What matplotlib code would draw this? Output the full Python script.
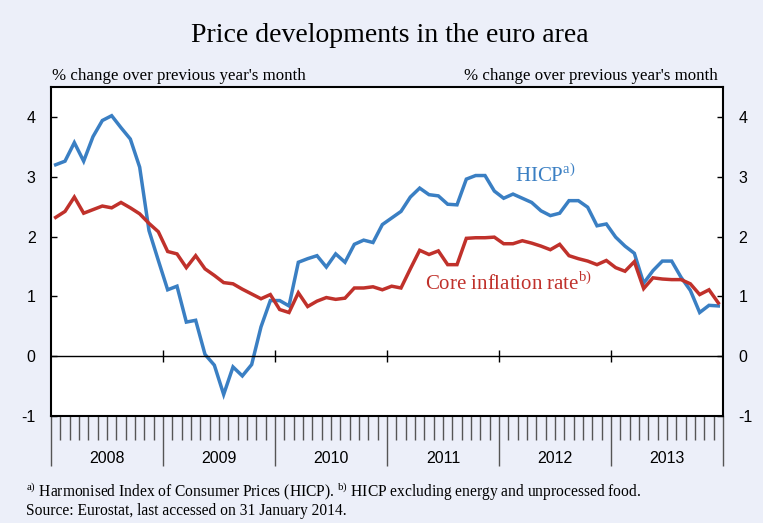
import numpy as np
import matplotlib
matplotlib.use('Agg')
import matplotlib.pyplot as plt

# monthly data, Jan 2008 - Dec 2013
years = ['2008', '2009', '2010', '2011', '2012', '2013']
hicp = [3.20, 3.26, 3.57, 3.26, 3.67, 3.94, 4.02, 3.82, 3.63, 3.16, 2.10, 1.60,
        1.11, 1.17, 0.57, 0.60, 0.03, -0.15, -0.64, -0.18, -0.33, -0.14, 0.49, 0.93,
        0.93, 0.84, 1.57, 1.63, 1.68, 1.49, 1.71, 1.57, 1.87, 1.94, 1.90, 2.20,
        2.31, 2.42, 2.66, 2.81, 2.70, 2.68, 2.54, 2.53, 2.96, 3.02, 3.02, 2.76,
        2.64, 2.71, 2.64, 2.57, 2.43, 2.35, 2.39, 2.60, 2.60, 2.49, 2.18, 2.21,
        1.99, 1.84, 1.72, 1.22, 1.43, 1.59, 1.59, 1.32, 1.10, 0.73, 0.85, 0.84]
core = [2.32, 2.42, 2.66, 2.39, 2.45, 2.51, 2.48, 2.57, 2.48, 2.38, 2.22, 2.08,
        1.75, 1.71, 1.48, 1.68, 1.46, 1.35, 1.23, 1.21, 1.12, 1.04, 0.96, 1.03,
        0.78, 0.73, 1.06, 0.83, 0.92, 0.98, 0.95, 0.97, 1.14, 1.14, 1.16, 1.11,
        1.17, 1.14, 1.46, 1.77, 1.70, 1.76, 1.53, 1.53, 1.97, 1.98, 1.98, 1.99,
        1.88, 1.88, 1.93, 1.89, 1.84, 1.78, 1.87, 1.68, 1.63, 1.59, 1.53, 1.60,
        1.48, 1.42, 1.58, 1.13, 1.31, 1.29, 1.28, 1.28, 1.21, 1.03, 1.11, 0.89]
yticks = [-1, 0, 1, 2, 3, 4]

blue = '#3a7fc3'
red = '#c0312b'
bg = '#eceff9'

plt.rcParams['font.family'] = ['Liberation Serif', 'DejaVu Serif']
plt.rcParams['mathtext.fontset'] = 'custom'
plt.rcParams['mathtext.rm'] = 'Liberation Serif'
plt.rcParams['axes.unicode_minus'] = False

fig = plt.figure(figsize=(7.63, 5.23), dpi=100, facecolor=bg)
W, H = 763, 523
ax = fig.add_axes([51 / W, (H - 416) / H, 672 / W, 329 / H])
ax.set_facecolor('white')

n = len(hicp)
x = np.arange(n) + 0.5
ax.plot(x, hicp, color=blue, lw=2.5, solid_joinstyle='miter')
ax.plot(x, core, color=red, lw=2.5, solid_joinstyle='miter')

ax.axhline(0, color='black', lw=1)
ybound = np.arange(12, n, 12)
ax.plot(ybound, np.zeros(len(ybound)), '|', color='black', ms=8, mew=1)

ax.set_xlim(0, n)
ax.set_ylim(-1, 4.5)

for s in ax.spines.values():
    s.set_linewidth(1.5)
    s.set_color('black')

ax.set_yticks(yticks)
ax.tick_params(axis='y', which='both', direction='in', length=4, width=1,
               left=True, right=True, labelleft=True, labelright=True,
               pad=11, labelsize=11.5)
for lab in ax.get_yticklabels():
    lab.set_family(['Liberation Sans', 'DejaVu Sans'])

ax.set_xticks(np.arange(0, n + 1, 12))
ax.set_xticks([m for m in range(n + 1) if m % 12], minor=True)
ax.set_xticklabels([])
ax.tick_params(axis='x', which='major', direction='out', length=36, width=1,
               color='#555555')
ax.tick_params(axis='x', which='minor', direction='out', length=17, width=1,
               color='#555555')
for i, yr in enumerate(years):
    ax.text(12 * i + 6, -0.13, yr, transform=ax.get_xaxis_transform(),
            ha='center', va='center', fontsize=11.5,
            family=['Liberation Sans', 'DejaVu Sans'])

ax.text(49.7, 2.92, r'HICP$^{\mathrm{a)}}$', color=blue, fontsize=15,
        va='baseline', ha='left')
ax.text(40.1, 1.10, r'Core inflation rate$^{\mathrm{b)}}$', color=red,
        fontsize=15, va='baseline', ha='left')

fig.text(390 / W, (H - 41.7) / H, 'Price developments in the euro area',
         ha='center', va='baseline', fontsize=20)
fig.text(52 / W, (H - 80) / H, "% change over previous year's month",
         ha='left', va='baseline', fontsize=12.2)
fig.text(718 / W, (H - 80) / H, "% change over previous year's month",
         ha='right', va='baseline', fontsize=12.2)

fig.text(26 / W, (H - 497) / H,
         r'$^{\mathrm{a)}}$ Harmonised Index of Consumer Prices (HICP). '
         r'$^{\mathrm{b)}}$ HICP excluding energy and unprocessed food.',
         ha='left', va='baseline', fontsize=11.2)
fig.text(26 / W, (H - 515) / H, 'Source: Eurostat, last accessed on 31 January 2014.',
         ha='left', va='baseline', fontsize=11.2)

fig.savefig('out.png', dpi=100, facecolor=bg)
